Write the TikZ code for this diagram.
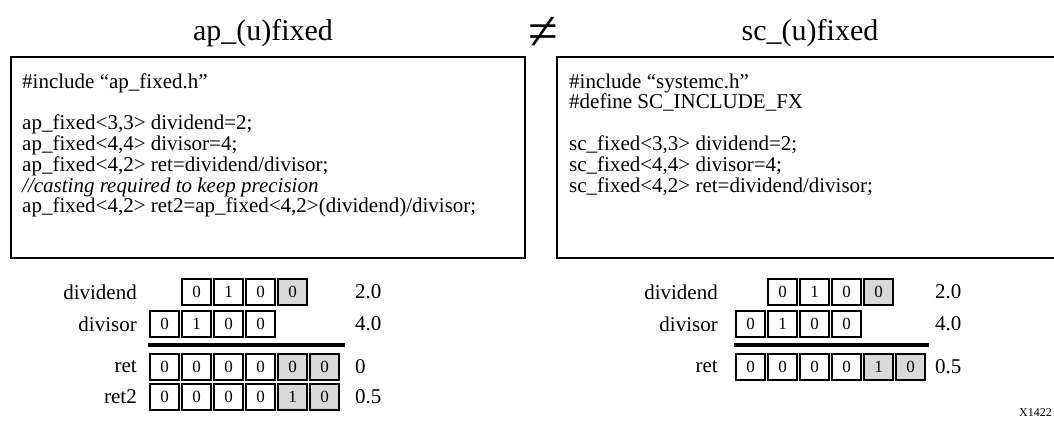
\documentclass[tikz,border=0pt]{standalone}
\usepackage{fontspec}
\setmainfont{Liberation Serif}
\usetikzlibrary{positioning}
\definecolor{bitgray}{RGB}{217,217,217}
\tikzset{
  codebox/.style={draw=black, line width=2.5pt},
  codeline/.style={anchor=base west, inner sep=0pt, font=\fontsize{21}{21}\selectfont},
  typetitle/.style={anchor=base, inner sep=0pt, font=\fontsize{30}{30}\selectfont},
  bitcell/.style={draw=black, line width=1.1pt, minimum width=29pt, minimum height=26pt,
    inner sep=0pt, font=\fontsize{17}{17}\selectfont},
  bitlsb/.style={bitcell, fill=bitgray},
  rowlabel/.style={anchor=east, inner sep=0pt, font=\fontsize{21}{21}\selectfont},
  rowvalue/.style={anchor=west, inner sep=0pt, font=\fontsize{21}{21}\selectfont},
  sumrule/.style={line width=3.5pt}
}

\begin{document}
\begin{tikzpicture}[x=1pt, y=-1pt]
  \clip (0,0) rectangle (1054,421);
  % titles
  \node[typetitle] (aptitle) at (263,40) {ap\_(u)fixed};
  \node[typetitle] (sctitle) at (810,40) {sc\_(u)fixed};
  \node[inner sep=0pt, font=\fontsize{54}{54}\selectfont] (neq) at (543,33) {≠};

  % code boxes
  \draw[codebox] (11,57) rectangle (525,258);
  \draw[codebox] (557,57) rectangle (1071,258);
  \node[codeline] (ap1) at (22,88) {\#include “ap\_fixed.h”};
  \node[codeline] (ap2) at (22,129.6) {ap\_fixed<3,3> dividend=2;};
  \node[codeline] (ap3) at (22,150.4) {ap\_fixed<4,4> divisor=4;};
  \node[codeline] (ap4) at (22,171.2) {ap\_fixed<4,2> ret=dividend/divisor;};
  \node[codeline] (ap5) at (22,192) {\textit{//casting required to keep precision}};
  \node[codeline] (ap6) at (22,212.8) {ap\_fixed<4,2> ret2=ap\_fixed<4,2>(dividend)/divisor;};
  \node[codeline] (sc1) at (569,88) {\#include “systemc.h”};
  \node[codeline] (sc2) at (569,108.8) {\#define SC\_INCLUDE\_FX};
  \node[codeline] (sc3) at (569,150.4) {sc\_fixed<3,3> dividend=2;};
  \node[codeline] (sc4) at (569,171.2) {sc\_fixed<4,4> divisor=4;};
  \node[codeline] (sc5) at (569,192) {sc\_fixed<4,2> ret=dividend/divisor;};

  % ap bits
  \node[rowlabel] (apddlbl) at (137,292) {dividend};
  \foreach \k/\b in {1/0,2/1,3/0}
    \node[bitcell] (apdd\k) at ({164.5+32*\k},292) {\b};
  \node[bitlsb] (apdd4) at (292.5,292) {0};
  \node[rowvalue] (apddval) at (355,292) {2.0};
  \node[rowlabel] (apdvlbl) at (137,324) {divisor};
  \foreach \k/\b in {0/0,1/1,2/0,3/0}
    \node[bitcell] (apdv\k) at ({164.5+32*\k},324) {\b};
  \node[rowvalue] (apdvval) at (355,324) {4.0};
  \draw[sumrule] (148,345) -- (345,345);
  \node[rowlabel] (aprtlbl) at (137,367) {ret};
  \foreach \k/\b in {0/0,1/0,2/0,3/0}
    \node[bitcell] (aprt\k) at ({164.5+32*\k},367) {\b};
  \foreach \k/\b in {4/0,5/0}
    \node[bitlsb] (aprt\k) at ({164.5+32*\k},367) {\b};
  \node[rowvalue] (aprtval) at (355,367) {0};
  \node[rowlabel] (aprxlbl) at (137,397) {ret2};
  \foreach \k/\b in {0/0,1/0,2/0,3/0}
    \node[bitcell] (aprx\k) at ({164.5+32*\k},397) {\b};
  \foreach \k/\b in {4/1,5/0}
    \node[bitlsb] (aprx\k) at ({164.5+32*\k},397) {\b};
  \node[rowvalue] (aprxval) at (355,397) {0.5};

  % sc bits
  \node[rowlabel] (scddlbl) at (718,292) {dividend};
  \foreach \k/\b in {1/0,2/1,3/0}
    \node[bitcell] (scdd\k) at ({750.5+32*\k},292) {\b};
  \node[bitlsb] (scdd4) at (878.5,292) {0};
  \node[rowvalue] (scddval) at (935,292) {2.0};
  \node[rowlabel] (scdvlbl) at (718,324) {divisor};
  \foreach \k/\b in {0/0,1/1,2/0,3/0}
    \node[bitcell] (scdv\k) at ({750.5+32*\k},324) {\b};
  \node[rowvalue] (scdvval) at (935,324) {4.0};
  \draw[sumrule] (734,345) -- (929,345);
  \node[rowlabel] (scrtlbl) at (718,367) {ret};
  \foreach \k/\b in {0/0,1/0,2/0,3/0}
    \node[bitcell] (scrt\k) at ({750.5+32*\k},367) {\b};
  \foreach \k/\b in {4/1,5/0}
    \node[bitlsb] (scrt\k) at ({750.5+32*\k},367) {\b};
  \node[rowvalue] (scrtval) at (935,367) {0.5};

  \node[anchor=east, inner sep=0pt, font=\fontsize{12}{12}\selectfont] (figid) at (1052,413) {X1422};
\end{tikzpicture}
\end{document}
